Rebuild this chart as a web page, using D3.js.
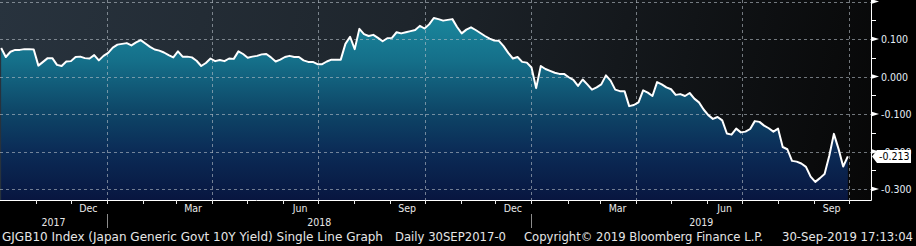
<!DOCTYPE html>
<html>
<head>
<meta charset="utf-8">
<script src="https://cdn.jsdelivr.net/npm/d3@7"></script>
<style>
html, body { margin: 0; padding: 0; background: #000; }
svg { display: block; }
text { font-family: "DejaVu Sans Condensed", "DejaVu Sans", sans-serif; font-stretch: condensed; }
</style>
</head>
<body>
<svg id="chart" width="916" height="246"></svg>
<script>
// GJGB10 yield, one reading every 4 days from 2 Oct 2017
var startDate = Date.UTC(2017, 9, 2);
var endDate = Date.UTC(2019, 9, 1);
var stepDays = 4;
var yields = [
    0.076, 0.052, 0.066, 0.071, 0.071, 0.073, 0.073, 0.072, 0.029, 0.039,
    0.049, 0.049, 0.031, 0.028, 0.040, 0.041, 0.052, 0.053, 0.049, 0.048,
    0.057, 0.043, 0.055, 0.063, 0.077, 0.085, 0.087, 0.089, 0.083, 0.091,
    0.097, 0.088, 0.079, 0.072, 0.069, 0.064, 0.057, 0.051, 0.067, 0.053,
    0.053, 0.051, 0.042, 0.028, 0.036, 0.048, 0.041, 0.044, 0.041, 0.048,
    0.047, 0.067, 0.060, 0.050, 0.053, 0.055, 0.059, 0.060, 0.051, 0.040,
    0.045, 0.052, 0.055, 0.052, 0.052, 0.043, 0.039, 0.039, 0.033, 0.033,
    0.040, 0.045, 0.045, 0.045, 0.087, 0.106, 0.073, 0.127, 0.113, 0.108,
    0.111, 0.103, 0.094, 0.102, 0.103, 0.118, 0.115, 0.118, 0.121, 0.124,
    0.135, 0.128, 0.139, 0.156, 0.153, 0.149, 0.151, 0.153, 0.132, 0.115,
    0.125, 0.131, 0.124, 0.116, 0.108, 0.101, 0.096, 0.095, 0.081, 0.063,
    0.048, 0.052, 0.039, 0.037, 0.024, -0.031, 0.028, 0.020, 0.015, 0.010,
    0.007, 0.007, -0.002, -0.009, -0.025, -0.008, -0.021, -0.035, -0.029, -0.021,
    0.003, -0.011, -0.035, -0.039, -0.039, -0.079, -0.076, -0.069, -0.037, -0.043,
    -0.052, -0.015, -0.021, -0.029, -0.034, -0.049, -0.047, -0.052, -0.044, -0.059,
    -0.069, -0.088, -0.103, -0.113, -0.108, -0.117, -0.152, -0.155, -0.139, -0.149,
    -0.147, -0.140, -0.119, -0.121, -0.131, -0.138, -0.147, -0.139, -0.188, -0.194,
    -0.225, -0.227, -0.232, -0.241, -0.267, -0.281, -0.271, -0.260, -0.212, -0.153,
    -0.193, -0.240, -0.213
];
var lastValue = -0.213;

var yGrid = [0.2, 0.1, 0, -0.1, -0.2, -0.3];
var yLabelled = [0.1, 0, -0.1, -0.2, -0.3];
var yMinor = [0.15, 0.05, -0.05, -0.15, -0.25];
var monthLabelDates = ['2017-12-16', '2018-03-16', '2018-06-16', '2018-09-16',
                       '2018-12-16', '2019-03-16', '2019-06-16', '2019-09-16'];
var yearLabels = ['2017', '2018', '2019'];
var footerTexts = [
    'GJGB10 Index (Japan Generic Govt 10Y Yield) Single Line Graph',
    'Daily 30SEP2017-0',
    'Copyright\u00a9 2019 Bloomberg Finance L.P.',
    '30-Sep-2019 17:13:04'
];

var plotRight = 871;
var plotBottom = 200;

var dates = d3.utcDay.range(startDate, endDate, stepDays);
var data = dates.map(function(d, i) { return { date: d, value: yields[i] }; });

var x = d3.scaleUtc()
    .domain([Date.UTC(2017, 9, 1), Date.UTC(2019, 9, 1)])
    .range([0, 849]);
var y = d3.scaleLinear().domain([0.2, -0.3]).range([1.5, 189]);

var svg = d3.select('#chart');
var defs = svg.append('defs');

var bg = defs.append('linearGradient').attr('id', 'bg')
    .attr('gradientUnits', 'userSpaceOnUse')
    .attr('x1', 0).attr('y1', 0).attr('x2', plotRight).attr('y2', plotBottom);
bg.append('stop').attr('offset', 0).attr('stop-color', '#28333e');
bg.append('stop').attr('offset', 0.45).attr('stop-color', '#1e252c');
bg.append('stop').attr('offset', 1).attr('stop-color', '#070707');

var fill = defs.append('linearGradient').attr('id', 'fill')
    .attr('gradientUnits', 'userSpaceOnUse')
    .attr('x1', 0).attr('y1', 0).attr('x2', 0).attr('y2', plotBottom);
fill.append('stop').attr('offset', 0).attr('stop-color', '#1c8fa4');
fill.append('stop').attr('offset', 0.3).attr('stop-color', '#15708a');
fill.append('stop').attr('offset', 0.55).attr('stop-color', '#0e4768');
fill.append('stop').attr('offset', 0.75).attr('stop-color', '#0b2c57');
fill.append('stop').attr('offset', 1).attr('stop-color', '#081640');

svg.append('rect').attr('width', 916).attr('height', 246).attr('fill', '#000');
svg.append('rect').attr('width', plotRight).attr('height', plotBottom).attr('fill', 'url(#bg)');

// area + line
var area = d3.area()
    .x(function(d) { return x(d.date); })
    .y0(plotBottom)
    .y1(function(d) { return y(d.value); });
var line = d3.line()
    .x(function(d) { return x(d.date); })
    .y(function(d) { return y(d.value); });

svg.append('path').datum(data).attr('d', area).attr('fill', 'url(#fill)');

// dashed grid
var quarters = d3.utcMonth.every(3).range(Date.UTC(2018, 0, 1), Date.UTC(2019, 9, 2));
svg.append('g').selectAll('line').data(quarters).enter().append('line')
    .attr('x1', function(d) { return Math.round(x(d)) + 0.5; })
    .attr('x2', function(d) { return Math.round(x(d)) + 0.5; })
    .attr('y1', 0).attr('y2', plotBottom)
    .attr('stroke', '#b8c0c8').attr('stroke-opacity', 0.6)
    .attr('stroke-dasharray', '3,3');
svg.append('g').selectAll('line').data(yGrid).enter().append('line')
    .attr('x1', 0).attr('x2', plotRight)
    .attr('y1', function(d) { return Math.round(y(d)) + 0.5; })
    .attr('y2', function(d) { return Math.round(y(d)) + 0.5; })
    .attr('stroke', '#b8c0c8').attr('stroke-opacity', 0.6)
    .attr('stroke-dasharray', '3,3');

svg.append('path').datum(data).attr('d', line)
    .attr('fill', 'none').attr('stroke', '#fff')
    .attr('stroke-width', 2).attr('stroke-linejoin', 'round');

// axes frame
svg.append('line').attr('x1', 0).attr('x2', plotRight + 0.5)
    .attr('y1', plotBottom + 0.5).attr('y2', plotBottom + 0.5)
    .attr('stroke', '#fff');
svg.append('line').attr('x1', plotRight + 0.5).attr('x2', plotRight + 0.5)
    .attr('y1', 0).attr('y2', plotBottom + 0.5)
    .attr('stroke', '#fff');

// month ticks
var months = d3.utcMonth.range(Date.UTC(2017, 10, 1), Date.UTC(2019, 9, 2));
svg.append('g').selectAll('line').data(months).enter().append('line')
    .attr('x1', function(d) { return Math.round(x(d)) + 0.5; })
    .attr('x2', function(d) { return Math.round(x(d)) + 0.5; })
    .attr('y1', plotBottom).attr('y2', plotBottom + 4)
    .attr('stroke', '#e8e8e8');

var fmtMonth = d3.utcFormat('%b');
svg.append('g').selectAll('text').data(monthLabelDates).enter().append('text')
    .attr('x', function(d) { return x(new Date(d)); })
    .attr('y', 212)
    .attr('text-anchor', 'middle')
    .attr('font-size', 10.5)
    .attr('fill', '#e8e8e8')
    .text(function(d) { return fmtMonth(new Date(d)); });

// year separators and labels
var yearStarts = [Date.UTC(2018, 0, 1), Date.UTC(2019, 0, 1)];
svg.append('g').selectAll('line').data(yearStarts).enter().append('line')
    .attr('x1', function(d) { return Math.round(x(d)) + 0.5; })
    .attr('x2', function(d) { return Math.round(x(d)) + 0.5; })
    .attr('y1', 214).attr('y2', 228)
    .attr('stroke', '#8c8c8c');
svg.append('g').selectAll('text').data(yearLabels).enter().append('text')
    .attr('x', function(d) {
        var yr = +d;
        var a = Math.max(0, x(Date.UTC(yr, 0, 1)));
        var b = Math.min(plotRight, x(Date.UTC(yr + 1, 0, 1)));
        return (a + b) / 2;
    })
    .attr('y', 226)
    .attr('text-anchor', 'middle')
    .attr('font-size', 10.5)
    .attr('fill', '#e8e8e8')
    .text(function(d) { return d; });

// right axis
svg.append('g').selectAll('line').data(yMinor).enter().append('line')
    .attr('x1', plotRight).attr('x2', plotRight + 5)
    .attr('y1', function(d) { return Math.round(y(d)) + 0.5; })
    .attr('y2', function(d) { return Math.round(y(d)) + 0.5; })
    .attr('stroke', '#fff');
svg.append('g').selectAll('path').data(yGrid).enter().append('path')
    .attr('d', function(d) {
        var yy = y(d);
        return 'M' + plotRight + ',' + (yy - 2.5) + 'L' + (plotRight + 8) + ',' + yy +
            'L' + plotRight + ',' + (yy + 2.5) + 'Z';
    })
    .attr('fill', '#fff');
var fmtY = d3.format('.3f');
svg.append('g').selectAll('text').data(yLabelled).enter().append('text')
    .attr('x', 881)
    .attr('y', function(d) { return y(d) + 4; })
    .attr('font-size', 10.5)
    .attr('fill', '#e6eef8')
    .text(function(d) { return fmtY(d).replace('\u2212', '-'); });

// last value tag, drawn over the -0.200 label as in the terminal view
var ly = y(lastValue);
svg.append('path')
    .attr('d', 'M' + (plotRight + 1) + ',' + ly + 'L' + (plotRight + 6) + ',' + (ly - 6.5) +
        'L911,' + (ly - 6.5) + 'L911,' + (ly + 6.5) + 'L' + (plotRight + 6) + ',' + (ly + 6.5) + 'Z')
    .attr('fill', '#fff');
svg.append('text')
    .attr('x', 879).attr('y', ly + 4)
    .attr('font-size', 10.5)
    .attr('fill', '#000')
    .text(fmtY(lastValue).replace('\u2212', '-'));

// footer
var footerX = [2, 395, 524, 782];
var footerW = [381, 111, 239, 131];
svg.append('g').selectAll('text').data(footerTexts).enter().append('text')
    .attr('x', function(d, i) { return footerX[i]; })
    .attr('y', 241)
    .attr('font-size', 12)
    .attr('fill', '#e6e6e6')
    .attr('textLength', function(d, i) { return footerW[i]; })
    .attr('lengthAdjust', 'spacingAndGlyphs')
    .text(function(d) { return d; });
</script>
</body>
</html>
